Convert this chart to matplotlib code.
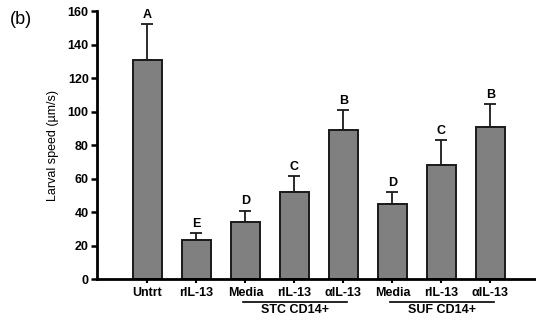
import matplotlib.pyplot as plt

plt.rcParams['font.family'] = ['Liberation Sans', 'DejaVu Sans']

# larval speed per treatment, mean and upper SEM
labels = ['Untrt', 'rIL-13', 'Media', 'rIL-13', 'αIL-13', 'Media', 'rIL-13', 'αIL-13']
means = [130.7, 23.3, 33.8, 52.0, 89.0, 44.6, 68.0, 90.5]
sems = [21.5, 4.0, 7.0, 9.5, 11.7, 7.2, 15.0, 13.8]
letters = ['A', 'E', 'D', 'C', 'B', 'D', 'C', 'B']
groups = [('STC CD14+', 2, 4), ('SUF CD14+', 5, 7)]

fig = plt.figure(figsize=(5.36, 3.25), dpi=100)
ax = fig.add_axes([0.181, 0.1415, 0.817, 0.8245])

idx = list(range(len(means)))
ax.bar(idx, means, width=0.6, color='#808080', edgecolor='#1a1a1a', linewidth=1.4, zorder=2)
ax.errorbar(idx, means, yerr=[[0] * len(sems), sems], fmt='none', ecolor='#1a1a1a',
            elinewidth=1.3, capsize=4, capthick=1.3, zorder=1)

for i, (m, s, l) in enumerate(zip(means, sems, letters)):
    ax.text(i, m + s + 2.0, l, ha='center', va='bottom', fontsize=9, fontweight='bold')

ax.set_xlim(-1.03, 7.91)
ax.set_ylim(0, 160)
ax.set_yticks(range(0, 161, 20))
ax.set_xticks(idx)
ax.set_xticklabels(labels, fontsize=9, fontweight='bold')
for t in ax.get_yticklabels():
    t.set_fontweight('bold')
    t.set_fontsize(9)
ax.tick_params(axis='y', direction='out', length=4, width=1.8, pad=2)
ax.tick_params(axis='x', direction='out', length=3, width=1.5, pad=3)

for side in ['top', 'right']:
    ax.spines[side].set_visible(False)
for side in ['left', 'bottom']:
    ax.spines[side].set_linewidth(2)

ax.set_ylabel('Larval speed (µm/s)', fontsize=9, labelpad=6)

# underline and label for each cell source group
for name, a, b in groups:
    ax.plot([a - 0.04, b + 0.07], [-13.5, -13.5], color='black', lw=1.2, clip_on=False)
    ax.text((a + b) / 2 + 0.02, -15.0, name, ha='center', va='top', fontsize=9, fontweight='bold')

fig.text(0.019, 0.925, '(b)', fontsize=13)

plt.savefig('out.png', dpi=100)
